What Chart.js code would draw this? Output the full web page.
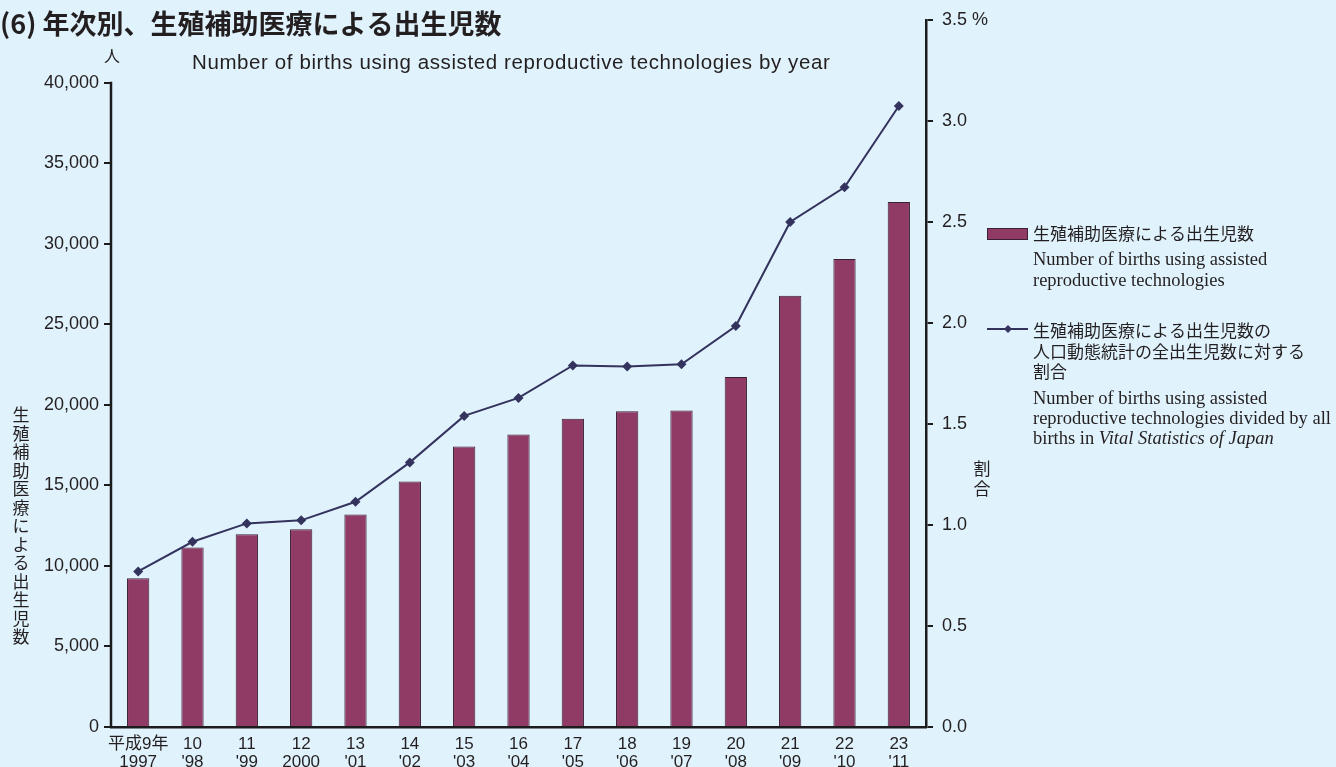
<!DOCTYPE html>
<html lang="ja">
<head>
<meta charset="utf-8">
<title>年次別、生殖補助医療による出生児数</title>
<script src="https://cdn.jsdelivr.net/npm/chart.js@4.4.1/dist/chart.umd.min.js"></script>
<style>
  html, body { margin: 0; padding: 0; background: #e0f2fc; }
  #wrap { position: relative; width: 1336px; height: 767px; }
</style>
</head>
<body>
<div id="wrap"><canvas id="chart" width="1336" height="767"></canvas></div>
<script>
// data
const eraLabels = ['平成9年', '10', '11', '12', '13', '14', '15', '16', '17', '18', '19', '20', '21', '22', '23'];
const yearLabels = ['1997', "'98", "'99", '2000', "'01", "'02", "'03", "'04", "'05", "'06", "'07", "'08", "'09", "'10", "'11"];
const births = [9230, 11140, 11970, 12280, 13190, 15250, 17420, 18170, 19140, 19610, 19650, 21740, 26770, 29060, 32600];
const ratio = [0.770, 0.917, 1.008, 1.023, 1.115, 1.310, 1.540, 1.629, 1.790, 1.785, 1.796, 1.985, 2.500, 2.672, 3.074];
const countTicks = [0, 5000, 10000, 15000, 20000, 25000, 30000, 35000, 40000];
const ratioTicks = [0, 0.5, 1.0, 1.5, 2.0, 2.5, 3.0, 3.5];

const countTop = countTicks[countTicks.length - 1];
const ratioTop = ratioTicks[ratioTicks.length - 1];

const TEXT = '#231f20';
const AXIS = '#1c1c1c';
const BAR = '#8f3b66';
const BAR_EDGE = '#3b2233';
const LINE = '#33335e';
const SANS = '"Liberation Sans", Arial, "Noto Sans CJK JP", sans-serif';
const CJK = '"Noto Sans CJK JP", "Liberation Sans", sans-serif';
const SERIF = '"Liberation Serif", "Times New Roman", serif';

const labels = eraLabels.map((era, i) => [era, yearLabels[i]]);

const background = {
  id: 'background',
  beforeDraw(chart) {
    const ctx = chart.ctx;
    ctx.save();
    ctx.fillStyle = '#e0f2fc';
    ctx.fillRect(0, 0, chart.width, chart.height);
    ctx.restore();
  }
};

const decorations = {
  id: 'decorations',
  afterDraw(chart) {
    const ctx = chart.ctx;
    const yL = chart.scales.count;
    const area = chart.chartArea;
    ctx.save();

    // left axis line only up to the last tick
    ctx.strokeStyle = AXIS;
    ctx.lineWidth = 2.5;
    ctx.beginPath();
    ctx.moveTo(area.left, yL.getPixelForValue(countTop) - 1);
    ctx.lineTo(area.left, yL.getPixelForValue(0) + 1);
    ctx.stroke();

    ctx.fillStyle = TEXT;
    ctx.textBaseline = 'middle';

    // title
    ctx.font = '700 27px ' + CJK;
    ctx.textAlign = 'left';
    ctx.fillText('(6) 年次別、生殖補助医療による出生児数', 0, 24);

    // subtitle
    ctx.font = '20.5px ' + SANS;
    ctx.letterSpacing = '0.6px';
    ctx.fillText('Number of births using assisted reproductive technologies by year', 192, 63);
    ctx.letterSpacing = '0px';

    // unit
    ctx.font = '16px ' + CJK;
    ctx.textAlign = 'center';
    ctx.fillText('人', 112, 56);

    // vertical axis titles
    ctx.font = '17px ' + CJK;
    const leftTitle = '生殖補助医療による出生児数';
    [...leftTitle].forEach((ch, i) => ctx.fillText(ch, 21, 415 + i * 18.5));
    const rightTitle = '割合';
    [...rightTitle].forEach((ch, i) => ctx.fillText(ch, 982, 469 + i * 19.5));

    // legend
    const barSet = chart.data.datasets[0];
    const lineSet = chart.data.datasets[1];
    ctx.fillStyle = barSet.backgroundColor;
    ctx.fillRect(987, 228, 41, 12);
    ctx.strokeStyle = barSet.borderColor;
    ctx.lineWidth = 1;
    ctx.strokeRect(987.5, 228.5, 40, 11);

    ctx.strokeStyle = lineSet.borderColor;
    ctx.lineWidth = 2;
    ctx.beginPath();
    ctx.moveTo(987, 329);
    ctx.lineTo(1028, 329);
    ctx.stroke();
    ctx.fillStyle = lineSet.backgroundColor;
    ctx.beginPath();
    ctx.moveTo(1008, 325);
    ctx.lineTo(1012, 329);
    ctx.lineTo(1008, 333);
    ctx.lineTo(1004, 329);
    ctx.closePath();
    ctx.fill();

    ctx.fillStyle = TEXT;
    ctx.textAlign = 'left';
    ctx.font = '17px ' + CJK;
    ctx.fillText('生殖補助医療による出生児数', 1033, 234);
    ctx.fillText('生殖補助医療による出生児数の', 1033, 331);
    ctx.fillText('人口動態統計の全出生児数に対する', 1033, 352);
    ctx.fillText('割合', 1033, 372);

    ctx.textBaseline = 'alphabetic';
    ctx.font = '18.5px ' + SERIF;
    ctx.fillText('Number of births using assisted', 1033, 265);
    ctx.fillText('reproductive technologies', 1033, 286);
    ctx.fillText('Number of births using assisted', 1033, 404);
    ctx.fillText('reproductive technologies divided by all', 1033, 424);
    const lead = 'births in ';
    ctx.fillText(lead, 1033, 444);
    const leadW = ctx.measureText(lead).width;
    ctx.font = 'italic 18.5px ' + SERIF;
    ctx.fillText('Vital Statistics of Japan', 1033 + leadW, 444);

    ctx.restore();
  }
};

new Chart(document.getElementById('chart'), {
  data: {
    labels: labels,
    datasets: [
      {
        type: 'bar',
        label: '生殖補助医療による出生児数',
        data: births,
        yAxisID: 'count',
        backgroundColor: BAR,
        borderColor: BAR_EDGE,
        borderWidth: 1,
        barPercentage: 0.41,
        categoryPercentage: 1,
        order: 2
      },
      {
        type: 'line',
        label: '生殖補助医療による出生児数の人口動態統計の全出生児数に対する割合',
        data: ratio,
        yAxisID: 'ratio',
        borderColor: LINE,
        backgroundColor: LINE,
        borderWidth: 2,
        tension: 0,
        pointStyle: 'rectRot',
        pointRadius: 5,
        pointBorderWidth: 0,
        order: 1
      }
    ]
  },
  options: {
    responsive: false,
    animation: false,
    events: [],
    layout: {
      padding: { left: 0, right: 340, top: 20, bottom: 0 }
    },
    scales: {
      x: {
        grid: { display: false, drawTicks: false },
        border: { display: true, color: AXIS, width: 2.5 },
        ticks: {
          color: TEXT,
          font: { family: SANS, size: 17, lineHeight: 1.03 },
          padding: 9,
          maxRotation: 0,
          autoSkip: false
        },
        afterFit: (scale) => { scale.height = 40; }
      },
      count: {
        position: 'left',
        min: 0,
        max: 43900,
        grid: { display: true, drawOnChartArea: false, drawTicks: true, tickLength: 7, color: AXIS, lineWidth: 2 },
        border: { display: false },
        ticks: {
          color: TEXT,
          padding: 5,
          font: { family: SANS, size: 18 },
          callback: (v) => v.toLocaleString('en-US')
        },
        afterBuildTicks: (scale) => {
          scale.ticks = countTicks.map((v) => ({ value: v }));
        },
        afterFit: (scale) => { scale.width = 111; }
      },
      ratio: {
        position: 'right',
        min: 0,
        max: ratioTop,
        grid: { display: true, drawOnChartArea: false, drawTicks: true, tickLength: 7, color: AXIS, lineWidth: 2 },
        border: { display: true, color: AXIS, width: 2.5 },
        ticks: {
          color: TEXT,
          padding: 9,
          font: { family: SANS, size: 18 },
          callback: (v) => v.toFixed(1) + (v === ratioTop ? ' %' : '')
        },
        afterBuildTicks: (scale) => {
          scale.ticks = ratioTicks.map((v) => ({ value: v }));
        },
        afterFit: (scale) => { scale.width = 70; }
      }
    },
    plugins: {
      legend: { display: false },
      tooltip: { enabled: false }
    }
  },
  plugins: [background, decorations]
});
</script>
</body>
</html>
